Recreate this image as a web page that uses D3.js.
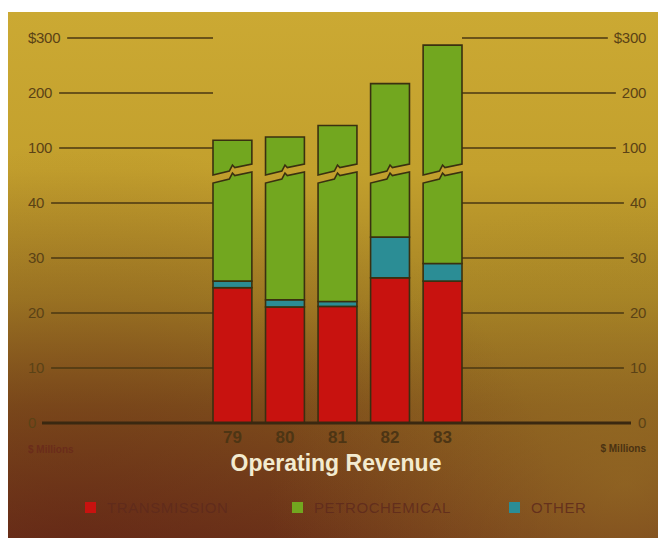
<!DOCTYPE html>
<html><head><meta charset="utf-8">
<script src="https://cdn.jsdelivr.net/npm/d3@7"></script>
<style>body{margin:0;background:#fff}svg{display:block}</style>
</head><body>
<script>
// ---- data ----
const years = ["79", "80", "81", "82", "83"];
const transmission = [24.6, 21.1, 21.2, 26.4, 25.8];
const other = [1.2, 1.3, 0.9, 7.4, 3.2];
const petrochemical = [88.2, 97.6, 118.9, 183.2, 258.0];
const tickValues = [0, 10, 20, 30, 40, 100, 200, 300];
const tickLabels = ["0", "10", "20", "30", "40", "100", "200", "$300"];
const seriesNames = ["TRANSMISSION", "PETROCHEMICAL", "OTHER"];
const seriesKeys = ["transmission", "other", "petrochemical"];
const seriesColors = {transmission: "#c8120f", petrochemical: "#72a71f", other: "#2b8d95"};
const breakValue = 71.6;
const title = "Operating Revenue";
const unitLabel = "$ Millions";

const W = 658, H = 538;
const svg = d3.select("body").append("svg").attr("width", W).attr("height", H);
const defs = svg.append("defs");

// background gradients
const lg = defs.append("linearGradient").attr("id", "bg").attr("x1", 0).attr("y1", 0).attr("x2", 0).attr("y2", 1);
[[0, "#cba933"], [0.3, "#c3a02d"], [0.55, "#a68325"], [0.75, "#86591d"], [1, "#70381a"]]
  .forEach(([o, c]) => lg.append("stop").attr("offset", o).attr("stop-color", c));
const rg = defs.append("radialGradient").attr("id", "dark").attr("cx", 0.1).attr("cy", 1).attr("r", 0.75);
rg.append("stop").attr("offset", 0).attr("stop-color", "#5a1a14").attr("stop-opacity", 0.45);
rg.append("stop").attr("offset", 1).attr("stop-color", "#5a1a14").attr("stop-opacity", 0);
const rg2 = defs.append("radialGradient").attr("id", "gold").attr("cx", 0.95).attr("cy", 0.9).attr("r", 0.55);
rg2.append("stop").attr("offset", 0).attr("stop-color", "#a8842a").attr("stop-opacity", 0.45);
rg2.append("stop").attr("offset", 1).attr("stop-color", "#a8842a").attr("stop-opacity", 0);

svg.append("rect").attr("x", 8).attr("y", 12).attr("width", W - 8).attr("height", H - 12).attr("fill", "url(#bg)");
svg.append("rect").attr("x", 8).attr("y", 12).attr("width", W - 8).attr("height", H - 12).attr("fill", "url(#dark)");
svg.append("rect").attr("x", 8).attr("y", 12).attr("width", W - 8).attr("height", H - 12).attr("fill", "url(#gold)");

// ---- scales ----
const y0px = 423, stepPx = 55;
const y = d3.scaleLinear().domain(tickValues).range(tickValues.map((d, i) => y0px - i * stepPx));
const x = d3.scaleBand().domain(years).range([213, 462]).paddingInner(0.26).paddingOuter(0);

const data = years.map((yr, i) => ({year: yr, transmission: transmission[i], other: other[i], petrochemical: petrochemical[i]}));
const stack = d3.stack().keys(seriesKeys)(data);

const font = "'Liberation Sans', Arial, Helvetica, sans-serif";
const lineCol = "#4a3712";
const labelCol = "#5a4216";

// ---- tick labels and grid lines ----
const leftX = 28, rightX = 646;
tickValues.forEach((v, i) => {
  const yy = y(v);
  const lt = svg.append("text").attr("x", leftX).attr("y", yy).attr("dy", "0.36em")
    .attr("font-family", font).attr("font-size", 15).attr("fill", labelCol)
    .attr("letter-spacing", -0.3).text(tickLabels[i]);
  const rt = svg.append("text").attr("x", rightX).attr("y", yy).attr("dy", "0.36em")
    .attr("text-anchor", "end").attr("font-family", font).attr("font-size", 15).attr("fill", labelCol)
    .attr("letter-spacing", -0.3).text(tickLabels[i]);
  const lw = lt.node().getComputedTextLength();
  const rw = rt.node().getComputedTextLength();
  if (v === 0) return;
  svg.append("line").attr("x1", leftX + lw + 7).attr("x2", x.range()[0]).attr("y1", yy).attr("y2", yy)
    .attr("stroke", lineCol).attr("stroke-width", 1.5);
  svg.append("line").attr("x1", x.range()[1]).attr("x2", rightX - rw - 6).attr("y1", yy).attr("y2", yy)
    .attr("stroke", lineCol).attr("stroke-width", 1.5);
});

// ---- bars ----
const strokeCol = "#3a3010";
const bw = x.bandwidth();
const yBreak = y(breakValue);
const gap = 8;
// lightning-shaped break edge (t across bar, vertical offset in px)
const edge = [[0, 5], [0.42, 1], [0.5, -5], [0.56, -2.5], [1, -6]];

const g = svg.append("g");
stack.forEach(layer => {
  const key = layer.key;
  layer.forEach((d, i) => {
    const x0 = x(years[i]), x1 = x0 + bw;
    const yb = y(d[0]), yt = y(d[1]);
    if (key !== "petrochemical") {
      g.append("rect").attr("x", x0).attr("y", yt).attr("width", bw).attr("height", yb - yt)
        .attr("fill", seriesColors[key]).attr("stroke", strokeCol).attr("stroke-width", 1.6);
    } else {
      const lower = [[x0, yb], [x1, yb]];
      edge.slice().reverse().forEach(([t, dy]) => lower.push([x0 + t * bw, yBreak + dy + gap / 2]));
      const upper = [[x0, yt], [x1, yt]];
      edge.slice().reverse().forEach(([t, dy]) => upper.push([x0 + t * bw, yBreak + dy - gap / 2]));
      [lower, upper].forEach(pts => {
        g.append("path").attr("d", d3.line()(pts) + "Z")
          .attr("fill", seriesColors[key]).attr("stroke", strokeCol).attr("stroke-width", 1.6)
          .attr("stroke-linejoin", "miter");
      });
    }
  });
});

// zero line
svg.append("line").attr("x1", 42).attr("x2", 631).attr("y1", y(0)).attr("y2", y(0))
  .attr("stroke", "#3a2810").attr("stroke-width", 3);

// year labels
years.forEach(yr => {
  svg.append("text").attr("x", x(yr) + bw / 2).attr("y", 443).attr("text-anchor", "middle")
    .attr("font-family", font).attr("font-weight", "bold").attr("font-size", 17)
    .attr("fill", "#4d3514").text(yr);
});

// unit labels
svg.append("text").attr("x", leftX).attr("y", 453).attr("font-family", font).attr("font-weight", "bold")
  .attr("font-size", 10).attr("fill", "#6a2c1a").text(unitLabel);
svg.append("text").attr("x", rightX).attr("y", 452).attr("text-anchor", "end").attr("font-family", font)
  .attr("font-weight", "bold").attr("font-size", 10).attr("fill", "#4a3212").text(unitLabel);

// title
svg.append("text").attr("x", 336).attr("y", 471).attr("text-anchor", "middle")
  .attr("font-family", font).attr("font-weight", "bold").attr("font-size", 23)
  .attr("fill", "#f3ebd0").text(title);

// legend
const legendKeys = ["transmission", "petrochemical", "other"];
const legendX = [85, 292, 509];
legendKeys.forEach((k, i) => {
  svg.append("rect").attr("x", legendX[i]).attr("y", 502).attr("width", 11).attr("height", 11)
    .attr("fill", seriesColors[k]);
  svg.append("text").attr("x", legendX[i] + 22).attr("y", 508).attr("dy", "0.36em")
    .attr("font-family", font).attr("font-size", 15).attr("letter-spacing", 0.6)
    .attr("fill", "#5e2a1c").attr("fill-opacity", 0.85).text(seriesNames[i]);
});
</script>
</body></html>
